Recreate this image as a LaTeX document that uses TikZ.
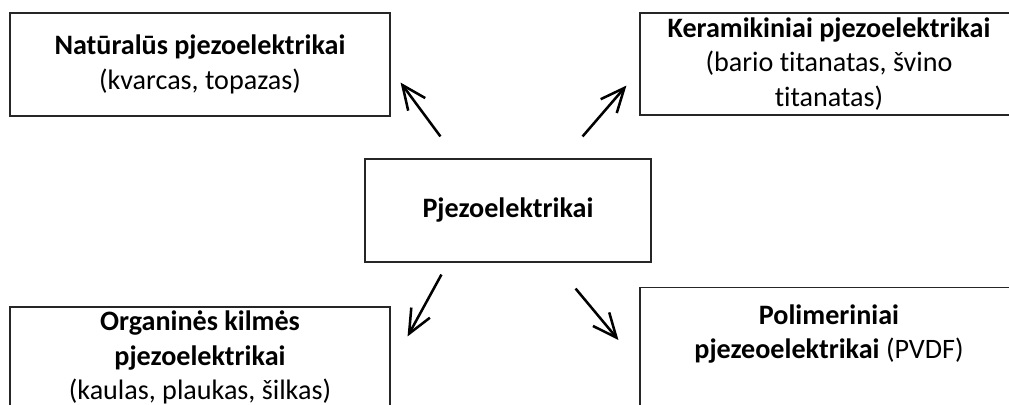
\documentclass[tikz,border=0pt]{standalone}
\usepackage{fontspec}
\setmainfont{Carlito}[Ligatures=CommonOff]
\usepackage{tikz}
\usetikzlibrary{arrows.meta}
\usetikzlibrary{calc}
\usetikzlibrary{positioning}

\begin{document}
\begin{tikzpicture}[x=0.25mm,y=-0.25mm,
  every node/.style={draw=black!85,line width=0.8pt,inner sep=0pt,align=center,
    font=\fontsize{20}{24.4}\selectfont},
  arr/.style={line width=1.8pt,-{Straight Barb[length=6mm,width=5.3mm,line width=1.8pt]}}]
  \clip (0,0) rectangle (1009,405);

  \node (piezo) at (508,210.5)[minimum width=71.5mm,minimum height=25.75mm]{\textbf{Pjezoelektrikai}};
  \node (natural) at (200,64.5)[minimum width=95mm,minimum height=25.75mm]{\textbf{Natūralūs pjezoelektrikai}\\(kvarcas, topazas)};
  \node (ceramic) at (829,64)[minimum width=94.5mm,minimum height=25.5mm]{\textbf{Keramikiniai pjezoelektrikai}\\(bario titanatas, švino\\titanatas)};
  \node (organic) at (200,357.5)[minimum width=95mm,minimum height=25.25mm]{\textbf{Organinės kilmės}\\\textbf{pjezoelektrikai}\\(kaulas, plaukas, šilkas)};
  \node (polymer) at (829,287)[anchor=north,minimum width=94.5mm,inner ysep=4mm,text height=39.4pt,text depth=30mm]{\textbf{Polimeriniai}\\\textbf{pjezeoelektrikai} (PVDF)};

  \draw[arr]($(piezo.north west)+(76,-22)$)--($(natural.south east)+(10,-34)$);
  \draw[arr]($(piezo.north east)+(-69,-22)$)--($(ceramic.south west)+(-13,-30)$);
  \draw[arr]($(piezo.south west)+(77,12)$)--($(organic.north east)+(17,30)$);
  \draw[arr]($(piezo.south east)+(-76,26)$)--($(polymer.north west)+(-21,53)$);
\end{tikzpicture}
\end{document}
